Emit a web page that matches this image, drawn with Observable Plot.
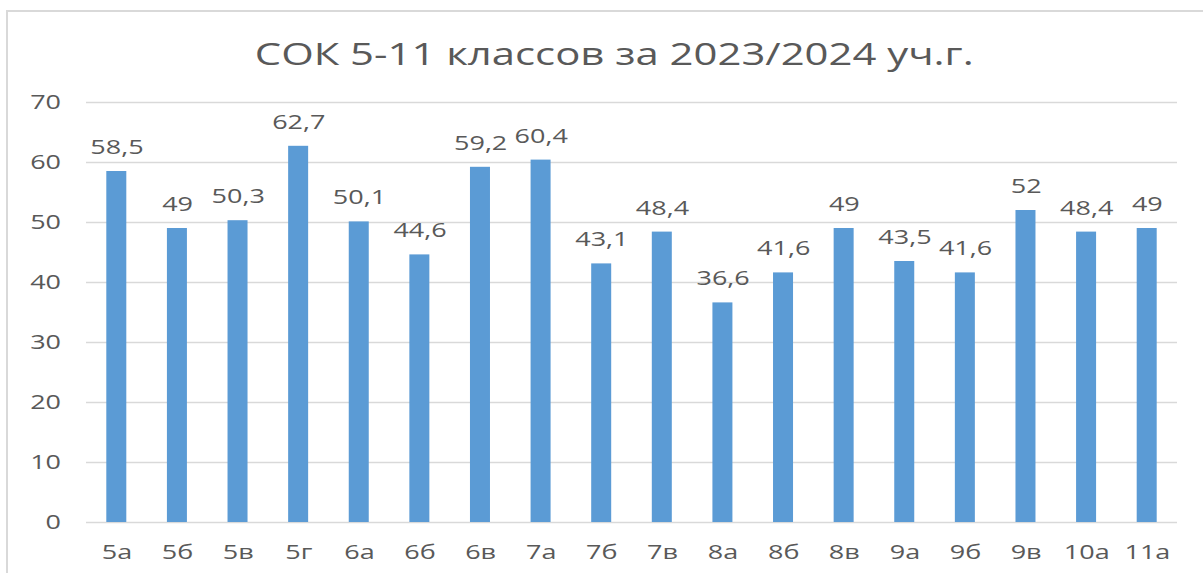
<!DOCTYPE html>
<html>
<head>
<meta charset="utf-8">
<script src="https://cdn.jsdelivr.net/npm/d3@7"></script>
<script src="https://cdn.jsdelivr.net/npm/@observablehq/plot@0.6"></script>
<style>
  html, body { margin: 0; padding: 0; background: #fff; overflow: hidden; }
  #wrap { position: relative; width: 1203px; height: 573px; overflow: hidden; }
  #frame { position: absolute; left: 6px; top: 10px; width: 1400px; height: 800px; border: 2px solid #d9d9d9; box-sizing: border-box; }
  #title { position: absolute; left: 0; top: 33px; width: 1228px; text-align: center; font-family: "Open Sans", sans-serif; font-size: 31px; color: #595959; line-height: 40px; }
  #title span { display: inline-block; transform: scaleX(1.35); transform-origin: 50% 50%; white-space: nowrap; }
  #chart { position: absolute; left: 0; top: 0; }
</style>
</head>
<body>
<div id="wrap">
  <div id="frame"></div>
  <div id="chart"></div>
  <div id="title"><span>СОК 5-11 классов за 2023/2024 уч.г.</span></div>
</div>
<script>
const titleText = "СОК 5-11 классов за 2023/2024 уч.г.";
const classes = ["5а","5б","5в","5г","6а","6б","6в","7а","7б","7в","8а","8б","8в","9а","9б","9в","10а","11а"];
const values = [58.5, 49, 50.3, 62.7, 50.1, 44.6, 59.2, 60.4, 43.1, 48.4, 36.6, 41.6, 49, 43.5, 41.6, 52, 48.4, 49];
const yTicks = [0, 10, 20, 30, 40, 50, 60, 70];

const data = classes.map((c, i) => ({c, v: values[i]}));
const fmt = v => String(v).replace(".", ",");

const S = 1.35;           // horizontal stretch of the whole drawing
const FULLW = 1203, H = 573;
const W = FULLW / S;
const ML = 86 / S, MR = 26 / S;
const step = (W - ML - MR) / classes.length;
const barW = 20 / S;
const inset = (step - barW) / 2;

const chart = Plot.plot({
  width: W,
  height: H,
  marginLeft: ML,
  marginRight: MR,
  marginTop: 102,
  marginBottom: 51,
  x: {domain: classes, padding: 0, round: false, label: null},
  y: {domain: [0, 70], label: null},
  style: {fontFamily: "Open Sans, sans-serif", fontSize: "20px", color: "#595959", background: "transparent"},
  marks: [
    Plot.gridY(yTicks, {stroke: "#d9d9d9", strokeOpacity: 1, strokeWidth: 1.3}),
    Plot.barY(data, {x: "c", y: "v", fill: "#5b9bd5", insetLeft: inset, insetRight: inset}),
    Plot.text(data, {x: "c", y: "v", text: d => fmt(d.v), dy: -24, lineAnchor: "middle", fill: "#595959", fontSize: 20}),
    Plot.axisX({tickSize: 0, tickPadding: 22, fontSize: 20}),
    Plot.axisY({ticks: yTicks, tickSize: 0, tickPadding: 19, fontSize: 20})
  ]
});
chart.setAttribute("width", FULLW);
chart.setAttribute("height", H);
chart.setAttribute("preserveAspectRatio", "none");
chart.style.width = FULLW + "px";
chart.style.height = H + "px";
chart.style.maxWidth = "none";
document.getElementById("chart").appendChild(chart);
</script>
</body>
</html>
